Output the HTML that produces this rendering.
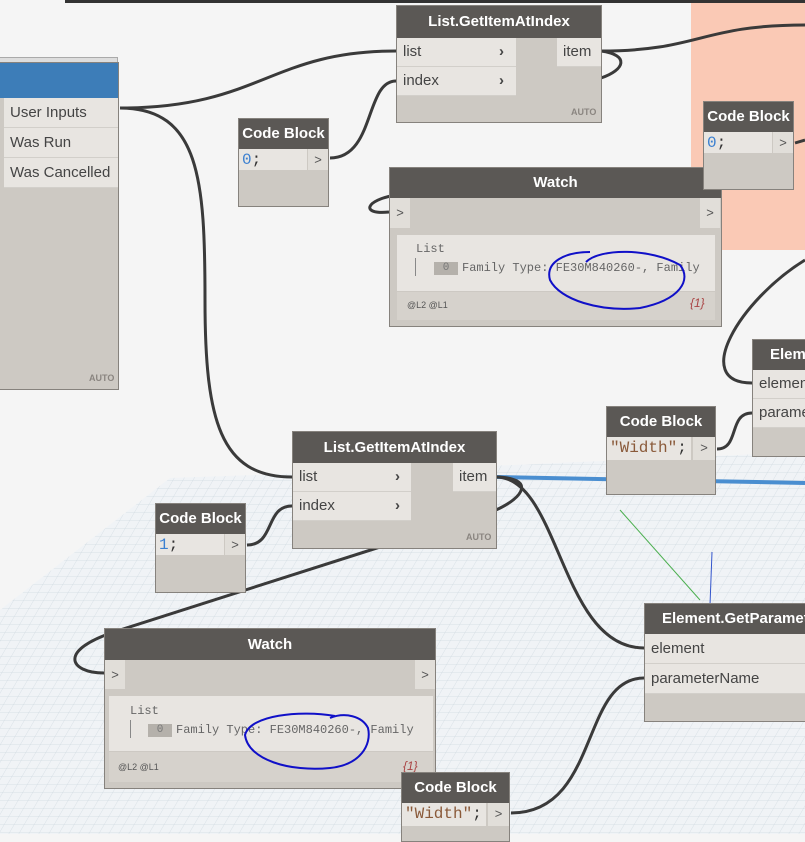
<!DOCTYPE html>
<html><head><meta charset="utf-8"><style>
html,body{margin:0;padding:0}
body{width:805px;height:834px;overflow:hidden;background:#f5f5f5;position:relative;font-family:"Liberation Sans",sans-serif}
.n{position:absolute;background:#cdc9c3;border:1px solid #86827d;box-sizing:border-box}
.h{position:absolute;left:0;right:0;top:0;background:#5b5855;color:#fff;font-weight:bold;font-size:15px;text-align:center;line-height:30px;white-space:nowrap;overflow:hidden}
.r{position:absolute;background:#e8e5e1;color:#444;font-size:15px;line-height:28px;white-space:nowrap;overflow:hidden;padding-left:6px;box-sizing:border-box;border-bottom:1px solid #d2cfca}
.ar{position:absolute;font-weight:bold;color:#444;font-size:15px}
.cb{position:absolute;font-family:"Liberation Mono",monospace;font-size:16px;line-height:22px;background:#e8e5e1;padding-left:3px;box-sizing:border-box}
.p{position:absolute;background:#e1ded9;color:#555;font-size:13px;text-align:center;line-height:22px}
.auto{position:absolute;font-size:9px;font-weight:bold;color:#8a8580}
.mono{font-family:"Liberation Mono",monospace}
</style></head><body>
<svg width="805" height="834" style="position:absolute;left:0;top:0">
<defs>
<pattern id="g" width="10" height="8" patternUnits="userSpaceOnUse" patternTransform="skewX(-30)">
<rect width="10" height="8" fill="#f0f3f6"/>
<path d="M0 0H10M0 0V8" stroke="#ccd7de" stroke-width="0.7"/>
</pattern>
</defs>
<rect x="65" y="0" width="740" height="3" fill="#333"/>
<rect x="691" y="3" width="114" height="247" fill="#fac9b5"/>
<polygon points="0,610 170,478 400,470 805,452 805,834 0,834" fill="url(#g)"/>
<path d="M620,510 L700,600" stroke="#4caf50" stroke-width="1"/>
<path d="M712,552 L710,605" stroke="#3355cc" stroke-width="1"/>
<path d="M496,477 L805,483" stroke="#4a8ed0" stroke-width="4" fill="none"/>
<g stroke="#3a3a3a" stroke-width="3" fill="none">
<path d="M120,108 C260,108 270,51 396,51"/>
<path d="M120,108 C200,108 205,180 205,300 C205,420 220,477 292,477"/>
<path d="M330,158 C375,158 365,81 396,81"/>
<path d="M601,51 C630,55 625,70 601,78"/>
<path d="M396,195 C365,200 360,215 389,212"/>
<path d="M601,51 C700,51 700,25 805,25"/>
<path d="M795,143 L805,140"/>
<path d="M805,260 C740,300 690,383 752,383"/>
<path d="M717,449 C740,449 728,413 752,413"/>
<path d="M247,545 C275,545 265,506 292,506"/>
<path d="M496,477 C560,477 560,648 644,648"/>
<path d="M496,477 C535,478 525,497 496,510 L120,630 C55,650 70,673 104,673"/>
<path d="M511,813 C600,813 580,678 644,678"/>
</g>
</svg>

<div class="n" style="left:-2px;top:57px;width:120px;height:6px;background:#ddd;border-color:#aaa"></div>
<div class="n" style="left:-2px;top:62px;width:121px;height:328px">
<div class="h" style="background:#3d7db8;height:35px"></div>
<div class="r" style="left:5px;top:35px;width:114px;height:30px;line-height:30px">User Inputs</div>
<div class="r" style="left:5px;top:65px;width:114px;height:30px;line-height:30px">Was Run</div>
<div class="r" style="left:5px;top:95px;width:114px;height:30px;line-height:30px">Was Cancelled</div>
<div class="auto" style="left:90px;top:310px">AUTO</div>
</div>

<div class="n" style="left:238px;top:118px;width:91px;height:89px">
<div class="h">Code Block</div>
<div class="cb" style="left:0;top:30px;width:68px;height:21px;color:#3a7fd0">0<span style="color:#333">;</span></div>
<div class="p" style="left:69px;top:30px;width:20px;height:21px">&gt;</div>
</div>

<div class="n" style="left:396px;top:5px;width:206px;height:118px">
<div class="h" style="height:32px;line-height:32px">List.GetItemAtIndex</div>
<div class="r" style="left:0;top:32px;width:119px;height:29px">list<span class="ar" style="left:102px;top:0">›</span></div>
<div class="r" style="left:0;top:61px;width:119px;height:29px">index<span class="ar" style="left:102px;top:0">›</span></div>
<div class="r" style="left:160px;top:32px;width:44px;height:29px">item</div>
<div class="auto" style="left:174px;top:101px">AUTO</div>
</div>

<div class="n" style="left:389px;top:167px;width:333px;height:160px">
<div class="h">Watch</div>
<div class="p" style="left:0;top:30px;width:20px;height:30px;line-height:30px">&gt;</div>
<div class="p" style="left:310px;top:30px;width:20px;height:30px;line-height:30px">&gt;</div>
<div style="position:absolute;left:7px;top:67px;width:318px;height:56px;background:#e8e5e1"></div>
<div class="mono" style="position:absolute;left:26px;top:74px;font-size:12px;color:#666">List</div>
<div style="position:absolute;left:25px;top:90px;width:1px;height:18px;background:#888"></div>
<div class="mono" style="position:absolute;left:44px;top:94px;width:24px;height:13px;background:#b5b1ab;font-size:11px;color:#777;text-align:center;line-height:13px">0</div>
<div class="mono" style="position:absolute;left:72px;top:93px;font-size:12px;color:#666;white-space:nowrap">Family Type: FE30M840260-, Family</div>
<div style="position:absolute;left:7px;top:124px;width:318px;height:28px;background:#d6d2cc"></div>
<div style="position:absolute;left:17px;top:132px;font-size:9px;color:#555">@L2 @L1</div>
<div style="position:absolute;left:300px;top:128px;font-size:12px;color:#a44;font-style:italic">{1}</div>
</div>

<div class="n" style="left:703px;top:101px;width:91px;height:89px">
<div class="h">Code Block</div>
<div class="cb" style="left:0;top:30px;width:68px;height:21px;color:#3a7fd0">0<span style="color:#333">;</span></div>
<div class="p" style="left:69px;top:30px;width:20px;height:21px">&gt;</div>
</div>

<div class="n" style="left:752px;top:339px;width:60px;height:118px">
<div class="h" style="text-align:left;padding-left:17px">Element</div>
<div class="r" style="left:0;top:30px;width:60px;height:29px">element</div>
<div class="r" style="left:0;top:59px;width:60px;height:29px">parameter</div>
</div>

<div class="n" style="left:606px;top:406px;width:110px;height:89px">
<div class="h">Code Block</div>
<div class="cb" style="left:0;top:30px;width:84px;height:23px;color:#8a5a3a">"Width"<span style="color:#333">;</span></div>
<div class="p" style="left:86px;top:30px;width:22px;height:23px">&gt;</div>
</div>

<div class="n" style="left:292px;top:431px;width:205px;height:118px">
<div class="h" style="height:31px;line-height:31px">List.GetItemAtIndex</div>
<div class="r" style="left:0;top:31px;width:118px;height:29px">list<span class="ar" style="left:102px;top:0">›</span></div>
<div class="r" style="left:0;top:60px;width:118px;height:29px">index<span class="ar" style="left:102px;top:0">›</span></div>
<div class="r" style="left:160px;top:31px;width:43px;height:29px">item</div>
<div class="auto" style="left:173px;top:100px">AUTO</div>
</div>

<div class="n" style="left:155px;top:503px;width:91px;height:90px">
<div class="h">Code Block</div>
<div class="cb" style="left:0;top:30px;width:68px;height:21px;color:#3a7fd0">1<span style="color:#333">;</span></div>
<div class="p" style="left:69px;top:30px;width:20px;height:21px">&gt;</div>
</div>

<div class="n" style="left:644px;top:603px;width:170px;height:119px">
<div class="h" style="text-align:left;padding-left:17px">Element.GetParameterValueByName</div>
<div class="r" style="left:0;top:30px;width:170px;height:30px;line-height:30px">element</div>
<div class="r" style="left:0;top:60px;width:170px;height:30px;line-height:30px">parameterName</div>
</div>

<div class="n" style="left:104px;top:628px;width:332px;height:161px">
<div class="h" style="height:31px;line-height:31px">Watch</div>
<div class="p" style="left:0;top:31px;width:20px;height:29px;line-height:29px">&gt;</div>
<div class="p" style="left:310px;top:31px;width:20px;height:29px;line-height:29px">&gt;</div>
<div style="position:absolute;left:4px;top:67px;width:324px;height:55px;background:#e8e5e1"></div>
<div class="mono" style="position:absolute;left:25px;top:75px;font-size:12px;color:#666">List</div>
<div style="position:absolute;left:25px;top:91px;width:1px;height:18px;background:#888"></div>
<div class="mono" style="position:absolute;left:43px;top:95px;width:24px;height:13px;background:#b5b1ab;font-size:11px;color:#777;text-align:center;line-height:13px">0</div>
<div class="mono" style="position:absolute;left:71px;top:94px;font-size:12px;color:#666;white-space:nowrap">Family Type: FE30M840260-, Family</div>
<div style="position:absolute;left:4px;top:123px;width:324px;height:30px;background:#d6d2cc"></div>
<div style="position:absolute;left:13px;top:133px;font-size:9px;color:#555">@L2 @L1</div>
<div style="position:absolute;left:298px;top:130px;font-size:12px;color:#a44;font-style:italic">{1}</div>
</div>

<div class="n" style="left:401px;top:772px;width:109px;height:70px">
<div class="h">Code Block</div>
<div class="cb" style="left:0;top:30px;width:84px;height:23px;color:#8a5a3a">"Width"<span style="color:#333">;</span></div>
<div class="p" style="left:86px;top:30px;width:21px;height:23px">&gt;</div>
</div>

<svg width="805" height="834" style="position:absolute;left:0;top:0;pointer-events:none">
<g stroke="#1010c8" stroke-width="2" fill="none">
<path d="M586,262 C600,248 650,248 680,265 C692,280 680,300 640,308 C600,312 560,300 550,280 C545,262 565,252 590,252"/>
<path d="M335,716 C300,710 250,715 245,735 C248,760 290,772 330,768 C360,765 372,745 368,728 C362,716 345,712 330,718"/>
</g>
</svg>
</body></html>
